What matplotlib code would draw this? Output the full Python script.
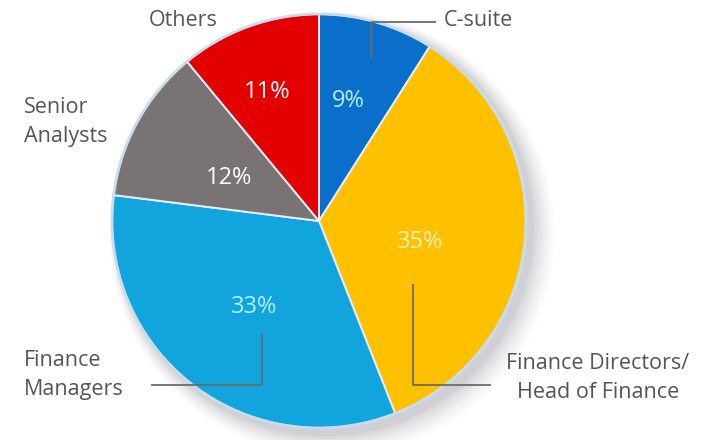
import numpy as np
import matplotlib
matplotlib.use("Agg")
import matplotlib.pyplot as plt
from matplotlib.patches import Circle

# data
labels = ["C-suite", "Finance Directors/\nHead of Finance", "Finance\nManagers", "Senior\nAnalysts", "Others"]
shares = [9, 35, 33, 12, 11]
colors = ["#0a6fca", "#ffc000", "#12a4dd", "#7a7373", "#e20000"]
pct_colors = ["#aef2ff", "#fff2b8", "#aef2ff", "#ffffff", "#ffffff"]
pct_radius = [0.595, 0.50, 0.52, 0.48, 0.67]
pct_turn = [2.6, -6.2, 1.0, 3.3, 2.3]

plt.rcParams['font.family'] = ['Open Sans', 'DejaVu Sans']

W, H = 724, 440
fig = plt.figure(figsize=(W / 100, H / 100), dpi=100)
ax = fig.add_axes([0, 0, 1, 1])

cx, cy, R = 319, H - 221, 207

# soft shadow behind the pie
for i, a in enumerate(np.linspace(0.05, 0.012, 8)):
    ax.add_patch(Circle((cx + 6 + i, cy - 6 - i), R + 2 + i * 2, color="#3a3a50", alpha=a, lw=0, zorder=0))

wedges, texts, autotexts = ax.pie(
    shares, colors=colors, startangle=90, counterclock=False,
    center=(cx, cy), radius=R, frame=True,
    autopct="%d%%", pctdistance=0.55,
    wedgeprops=dict(edgecolor="#e4eef8", linewidth=1.4),
    textprops=dict(fontsize=17),
)
ax.add_patch(Circle((cx, cy), R, fill=False, ec="#c9dcef", lw=2, zorder=5))

# place percentage labels near the wedge mid angle
for w, t, c, rr, turn in zip(wedges, autotexts, pct_colors, pct_radius, pct_turn):
    mid = np.deg2rad((w.theta1 + w.theta2) / 2 + turn)
    t.set_position((cx + rr * R * np.cos(mid), cy + rr * R * np.sin(mid)))
    t.set_color(c)

txt = dict(fontsize=15.5, color="#555555", linespacing=1.5)
ax.text(444, H - 20, labels[0], ha="left", va="center", **txt)
ax.text(598, H - 378, labels[1], ha="center", va="center", **txt)
ax.text(24, H - 375, labels[2], ha="left", va="center", **txt)
ax.text(24, H - 122, labels[3], ha="left", va="center", **txt)
ax.text(183, H - 20, labels[4], ha="center", va="center", **txt)

# leader lines
lc = dict(color="#6b6b6b", lw=1.3, zorder=6)
ax.plot([435, 371, 371], [H - 22, H - 22, H - 57], **lc)
ax.plot([152, 262, 262], [H - 385, H - 385, H - 335], **lc)
ax.plot([490, 413, 413], [H - 385, H - 385, H - 285], **lc)

ax.set_xlim(0, W)
ax.set_ylim(0, H)
ax.set_aspect("auto")
ax.axis("off")

fig.savefig("out.png", dpi=100)
